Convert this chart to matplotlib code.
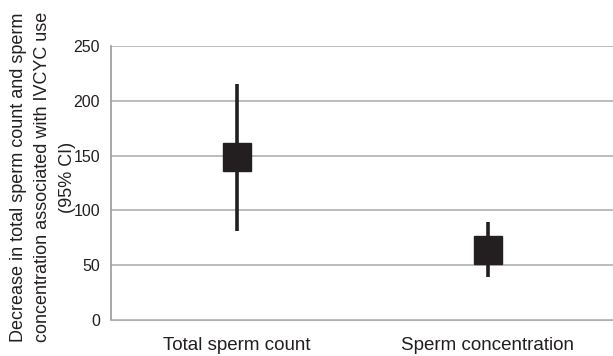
import numpy as np
import matplotlib
matplotlib.use('Agg')
import matplotlib.pyplot as plt

plt.rcParams['font.family'] = ['Liberation Sans', 'DejaVu Sans']

categories = ['Total sperm count', 'Sperm concentration']
estimates = [149, 64]
ci_low = [81, 39]
ci_high = [215, 89]
yticks = [0, 50, 100, 150, 200, 250]

fig = plt.figure(figsize=(6.13, 3.56), dpi=100)
ax = fig.add_axes([111/613, 1 - 320/356, 502/613, 274/356])

x = np.arange(len(categories)) + 0.5
est = np.array(estimates)
err = [est - np.array(ci_low), np.array(ci_high) - est]
ax.errorbar(x, est, yerr=err, fmt='s', color='#231f20', ms=19.5,
            elinewidth=2.6, capsize=0, zorder=3)

ax.set_xlim(0, 2)
ax.set_ylim(0, 250)
ax.set_yticks(yticks)
ax.set_xticks(x)
ax.set_xticklabels(categories, fontsize=13.5)
ax.tick_params(axis='y', length=0, labelsize=11.5, pad=8, colors='#231f20')
ax.tick_params(axis='x', length=0, pad=12, colors='#231f20')
ax.yaxis.grid(True, color='#b0b0b0', lw=1.2)
ax.set_axisbelow(True)
for s in ['top', 'right']:
    ax.spines[s].set_visible(False)
ax.spines['left'].set_color('#999999')
ax.spines['bottom'].set_color('#b0b0b0')
ax.spines['left'].set_linewidth(1.2)

fig.text(43/613, 1 - 177/356,
         'Decrease in total sperm count and sperm\nconcentration associated with IVCYC use\n(95% CI)',
         rotation=90, ha='center', va='center', fontsize=13,
         color='#231f20', linespacing=1.55, multialignment='center')

fig.savefig('out.png', dpi=100)
